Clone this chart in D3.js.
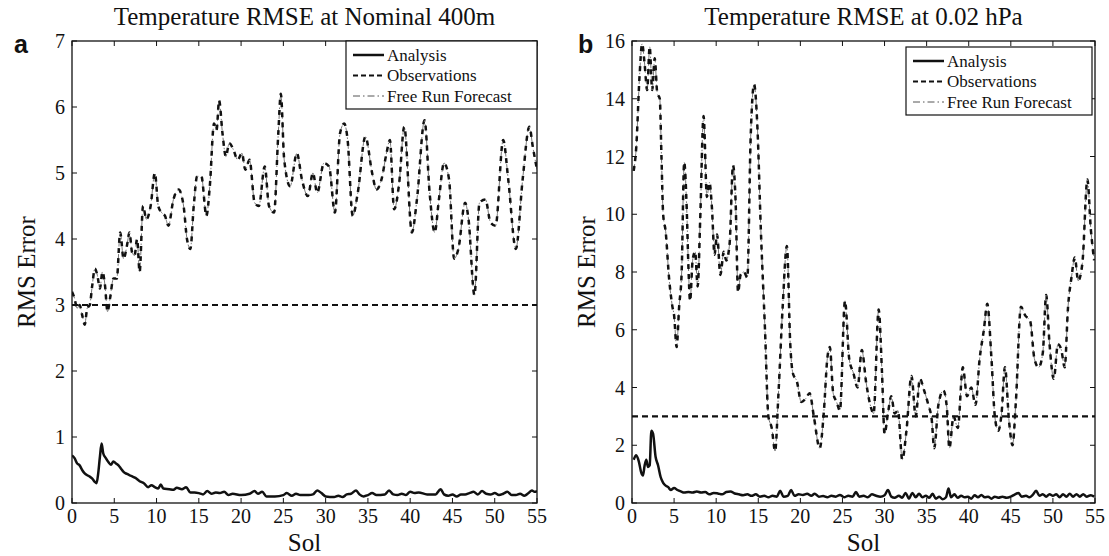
<!DOCTYPE html>
<html>
<head>
<meta charset="utf-8">
<script src="https://cdn.jsdelivr.net/npm/d3@7"></script>
<style>
  body { margin: 0; background: #fff; }
  svg { display: block; }
  text { font-family: "Liberation Serif", "Times New Roman", serif; fill: #111; }
</style>
</head>
<body>
<svg id="chart" width="1109" height="556"></svg>
<script>
// ---- data ----
const solTicks = [0, 5, 10, 15, 20, 25, 30, 35, 40, 45, 50, 55];
const leftYTicks = [0, 1, 2, 3, 4, 5, 6, 7];
const rightYTicks = [0, 2, 4, 6, 8, 10, 12, 14, 16];
const legendLabels = ["Analysis", "Observations", "Free Run Forecast"];
const obsError = 3;

// panel a: nominal 400m  [sol, rmse]
const leftAnalysis = [[0,0.72],[0.3,0.68],[0.6,0.6],[0.9,0.57],[1.2,0.5],[1.5,0.45],[1.8,0.42],[2.1,0.4],[2.4,0.37],[2.7,0.32],[2.9,0.3],[3.1,0.45],[3.3,0.7],[3.5,0.9],[3.7,0.75],[4.0,0.68],[4.3,0.62],[4.6,0.58],[4.9,0.63],[5.2,0.6],[5.5,0.57],[5.8,0.52],[6.1,0.47],[6.5,0.44],[7.0,0.41],[7.5,0.38],[8.0,0.33],[8.5,0.3],[9.0,0.24],[9.4,0.27],[9.8,0.24],[10.2,0.22],[10.5,0.28],[10.8,0.22],[11.5,0.21],[12.0,0.2],[12.4,0.23],[13.0,0.21],[13.5,0.24],[14.0,0.16],[14.5,0.16],[15.0,0.15],[15.5,0.13],[16.0,0.18],[16.5,0.14],[17.0,0.16],[17.5,0.15],[18.0,0.17],[18.5,0.12],[19.0,0.14],[20.0,0.12],[21.0,0.14],[21.6,0.18],[22.0,0.14],[22.5,0.17],[23.0,0.1],[24.0,0.1],[25.0,0.12],[25.4,0.15],[26.0,0.11],[26.5,0.14],[27.0,0.12],[28.0,0.12],[28.5,0.13],[29.0,0.19],[29.5,0.15],[30.0,0.1],[31.0,0.09],[31.5,0.11],[32.0,0.09],[32.5,0.13],[33.0,0.14],[33.6,0.19],[34.0,0.13],[34.5,0.1],[35.0,0.12],[35.5,0.15],[36.0,0.12],[37.0,0.13],[37.5,0.19],[38.0,0.13],[38.5,0.12],[39.0,0.14],[39.5,0.12],[40.0,0.17],[40.5,0.15],[41.0,0.16],[42.0,0.13],[43.0,0.13],[43.6,0.21],[44.0,0.13],[44.5,0.11],[45.0,0.13],[45.5,0.1],[46.0,0.13],[46.5,0.13],[47.0,0.15],[47.5,0.17],[48.0,0.13],[48.5,0.18],[49.0,0.14],[49.5,0.13],[50.0,0.15],[50.5,0.12],[51.0,0.14],[51.5,0.17],[52.0,0.12],[52.5,0.12],[53.0,0.14],[53.5,0.11],[54.0,0.15],[54.4,0.19],[54.7,0.17],[55.0,0.18]];
const leftForecast = [[0,3.2],[0.3,3.1],[0.6,2.95],[0.9,3.0],[1.2,2.85],[1.5,2.7],[1.8,2.95],[2.1,3.0],[2.4,3.3],[2.7,3.55],[3.0,3.45],[3.3,3.25],[3.6,3.5],[3.9,3.3],[4.2,2.9],[4.5,3.1],[4.9,3.4],[5.3,3.4],[5.7,4.1],[6.1,3.7],[6.5,3.9],[6.8,4.1],[7.1,3.8],[7.4,3.75],[7.7,4.0],[8.0,3.5],[8.4,4.5],[8.8,4.3],[9.3,4.5],[9.8,5.0],[10.2,4.5],[10.6,4.4],[11.0,4.35],[11.4,4.2],[12.0,4.6],[12.6,4.75],[13.2,4.5],[13.6,4.0],[14.0,3.85],[14.4,4.5],[14.8,4.95],[15.3,4.95],[15.9,4.35],[16.3,4.8],[16.8,5.75],[17.1,5.65],[17.4,6.1],[17.8,5.6],[18.2,5.25],[18.6,5.45],[19.1,5.35],[19.6,5.2],[20.1,5.3],[20.5,5.05],[21.0,5.2],[21.6,4.55],[22.1,4.5],[22.8,5.1],[23.3,4.5],[23.9,4.4],[24.4,5.6],[24.7,6.2],[25.1,5.2],[25.8,4.8],[26.6,5.3],[27.2,4.9],[27.9,4.65],[28.5,5.0],[29.0,4.7],[29.8,5.15],[30.4,5.1],[31.1,4.4],[31.7,5.6],[32.2,5.75],[32.6,5.5],[33.2,4.35],[33.8,4.7],[34.7,5.55],[35.5,5.0],[36.0,4.75],[36.6,4.9],[37.2,5.3],[37.6,5.5],[38.1,4.45],[38.7,4.85],[39.3,5.7],[40.2,4.1],[40.8,4.6],[41.7,5.8],[42.3,4.7],[42.9,4.1],[43.4,4.6],[44.0,5.15],[44.6,4.9],[45.2,3.7],[45.7,3.85],[46.5,4.55],[46.9,4.3],[47.6,3.15],[48.2,4.55],[48.9,4.6],[49.5,4.25],[50.1,4.2],[51.0,5.5],[51.6,4.9],[52.5,3.85],[53.3,4.9],[54.1,5.7],[54.5,5.4],[55.0,5.05]];

// panel b: 0.02 hPa
const rightAnalysis = [[0.2,1.5],[0.5,1.65],[0.8,1.45],[1.1,1.05],[1.3,0.95],[1.5,1.3],[1.7,1.5],[1.9,1.25],[2.1,1.3],[2.3,2.5],[2.5,2.4],[2.8,1.6],[3.1,1.3],[3.4,0.9],[3.7,0.7],[4.0,0.6],[4.3,0.55],[4.6,0.45],[5.0,0.52],[5.4,0.45],[5.8,0.4],[6.2,0.36],[6.7,0.38],[7.2,0.36],[7.7,0.4],[8.2,0.36],[8.7,0.38],[9.2,0.3],[9.7,0.35],[10.2,0.33],[10.7,0.3],[11.2,0.38],[11.7,0.4],[12.2,0.33],[12.7,0.3],[13.2,0.27],[13.7,0.3],[14.2,0.25],[14.7,0.3],[15.2,0.22],[15.7,0.25],[16.2,0.2],[16.7,0.25],[17.2,0.22],[17.6,0.42],[18.0,0.22],[18.5,0.25],[18.9,0.45],[19.3,0.25],[19.8,0.3],[20.3,0.28],[20.8,0.32],[21.3,0.25],[21.7,0.32],[22.2,0.22],[22.7,0.24],[23.2,0.2],[23.7,0.25],[24.2,0.22],[24.7,0.28],[25.2,0.2],[25.7,0.25],[26.2,0.22],[26.6,0.38],[27.0,0.22],[27.5,0.25],[28.0,0.2],[28.5,0.3],[29.0,0.25],[29.5,0.22],[30.0,0.27],[30.4,0.45],[30.8,0.22],[31.2,0.18],[31.7,0.25],[32.1,0.18],[32.5,0.35],[32.9,0.15],[33.3,0.35],[33.7,0.2],[34.1,0.32],[34.5,0.2],[34.9,0.25],[35.3,0.18],[35.7,0.32],[36.1,0.15],[36.5,0.22],[36.9,0.13],[37.3,0.2],[37.6,0.5],[37.9,0.2],[38.3,0.3],[38.7,0.18],[39.1,0.25],[39.5,0.2],[39.9,0.22],[40.3,0.15],[40.7,0.27],[41.1,0.2],[41.5,0.28],[41.9,0.2],[42.3,0.22],[42.7,0.15],[43.1,0.22],[43.5,0.18],[44.0,0.22],[44.5,0.18],[45.0,0.22],[45.5,0.3],[45.9,0.35],[46.3,0.22],[46.8,0.25],[47.2,0.2],[47.6,0.28],[48.0,0.42],[48.4,0.25],[48.8,0.3],[49.2,0.22],[49.6,0.3],[50.0,0.25],[50.4,0.3],[50.8,0.2],[51.2,0.3],[51.6,0.22],[52.0,0.32],[52.4,0.22],[52.8,0.3],[53.2,0.22],[53.6,0.3],[54.0,0.22],[54.5,0.27],[54.9,0.22]];
const rightForecast = [[0.2,11.5],[0.5,12.3],[0.9,14.8],[1.2,15.9],[1.5,15.2],[1.8,14.3],[2.1,15.8],[2.4,14.3],[2.7,15.4],[3.0,14.2],[3.3,14.0],[3.5,12.0],[3.7,10.0],[4.0,9.4],[4.4,7.8],[4.8,6.8],[5.0,6.5],[5.3,5.4],[5.6,6.8],[5.9,8.0],[6.2,11.8],[6.5,10.2],[6.7,8.2],[6.9,7.0],[7.2,8.4],[7.5,8.7],[7.8,7.5],[8.1,9.8],[8.5,13.4],[8.9,10.6],[9.2,11.1],[9.5,10.2],[9.8,8.6],[10.1,9.3],[10.5,7.9],[10.9,8.7],[11.2,8.4],[11.6,9.0],[12.0,11.7],[12.3,10.5],[12.6,7.3],[12.9,7.9],[13.3,8.0],[13.7,7.8],[14.1,12.7],[14.5,14.5],[14.9,13.0],[15.3,9.5],[15.8,6.0],[16.2,3.0],[16.6,2.6],[17.0,1.8],[17.4,3.8],[17.9,6.8],[18.4,8.9],[18.8,5.5],[19.1,4.5],[19.6,4.2],[20.1,3.5],[20.6,3.6],[21.1,3.8],[21.6,3.0],[22.3,1.9],[22.8,3.2],[23.2,5.0],[23.5,5.4],[23.9,3.8],[24.3,3.5],[24.7,3.2],[25.3,7.0],[25.8,5.0],[26.3,4.5],[26.8,4.0],[27.3,5.3],[27.8,4.2],[28.3,3.4],[28.7,3.1],[29.3,6.7],[29.7,4.5],[30.0,2.4],[30.4,3.1],[30.8,3.7],[31.2,3.1],[31.6,3.2],[32.1,1.5],[32.6,2.5],[33.2,4.4],[33.7,3.0],[34.2,4.3],[34.7,3.9],[35.2,3.4],[35.6,2.9],[35.9,1.9],[36.4,3.4],[37.0,3.9],[37.4,3.3],[37.7,1.9],[38.2,3.0],[38.7,2.6],[39.3,4.7],[39.8,3.7],[40.3,4.0],[40.8,3.4],[41.3,5.0],[41.8,6.0],[42.2,6.9],[42.7,5.0],[43.1,3.0],[43.5,2.5],[43.9,3.1],[44.3,4.7],[44.8,2.8],[45.2,2.0],[45.6,3.5],[46.2,6.8],[46.7,6.5],[47.3,6.3],[47.8,5.0],[48.3,4.7],[48.8,5.2],[49.2,7.2],[49.6,5.5],[50.1,4.3],[50.6,5.5],[51.0,5.3],[51.4,4.7],[51.8,6.8],[52.2,7.8],[52.6,8.5],[53.0,7.7],[53.5,8.3],[54.1,11.2],[54.5,9.5],[54.9,8.4]];

const svg = d3.select("#chart");
const SERIF = "'Liberation Serif', 'Times New Roman', serif";

function drawPanel(opt) {
  const x = d3.scaleLinear().domain([0, 55]).range([opt.left, opt.right]);
  const y = d3.scaleLinear().domain([0, opt.ymax]).range([opt.bottom, opt.top]);
  const g = svg.append("g").style("font-family", SERIF);
  const tick = 5;

  // plotted lines, clipped to the box
  const clipId = "clip-" + opt.tag;
  svg.append("clipPath").attr("id", clipId).append("rect")
    .attr("x", opt.left).attr("y", opt.top)
    .attr("width", opt.right - opt.left).attr("height", opt.bottom - opt.top);
  const plot = g.append("g").attr("clip-path", `url(#${clipId})`);
  const line = d3.line().x(d => x(d[0])).y(d => y(d[1])).curve(d3.curveMonotoneX);

  // free run forecast: thin dash-dot under thick dashes
  plot.append("path").attr("d", line(opt.forecast))
    .attr("fill", "none").attr("stroke", "#777").attr("stroke-width", 1)
    .attr("stroke-dasharray", "7,3,1.5,3");
  plot.append("path").attr("d", line(opt.forecast))
    .attr("fill", "none").attr("stroke", "#111").attr("stroke-width", 2.5)
    .attr("stroke-dasharray", "5,5");
  // observation error
  plot.append("path").attr("d", line([[0, obsError], [55, obsError]]))
    .attr("fill", "none").attr("stroke", "#111").attr("stroke-width", 2.2)
    .attr("stroke-dasharray", "6,4");
  // analysis
  plot.append("path").attr("d", line(opt.analysis))
    .attr("fill", "none").attr("stroke", "#111").attr("stroke-width", 2.5)
    .attr("stroke-linejoin", "round");

  // inside ticks on all four sides
  solTicks.forEach(t => {
    g.append("line").attr("x1", x(t)).attr("x2", x(t)).attr("y1", opt.bottom).attr("y2", opt.bottom - tick).attr("stroke", "#111");
    g.append("line").attr("x1", x(t)).attr("x2", x(t)).attr("y1", opt.top).attr("y2", opt.top + tick).attr("stroke", "#111");
    g.append("text").attr("x", x(t)).attr("y", opt.bottom + 20).attr("text-anchor", "middle")
      .attr("font-size", 20).text(t);
  });
  opt.yTicks.forEach(t => {
    g.append("line").attr("x1", opt.left).attr("x2", opt.left + tick).attr("y1", y(t)).attr("y2", y(t)).attr("stroke", "#111");
    g.append("line").attr("x1", opt.right).attr("x2", opt.right - tick).attr("y1", y(t)).attr("y2", y(t)).attr("stroke", "#111");
    g.append("text").attr("x", opt.left - 7).attr("y", y(t)).attr("dy", "0.35em").attr("text-anchor", "end")
      .attr("font-size", 20).text(t);
  });

  g.append("rect").attr("x", opt.left).attr("y", opt.top)
    .attr("width", opt.right - opt.left).attr("height", opt.bottom - opt.top)
    .attr("fill", "none").attr("stroke", "#111").attr("stroke-width", 1.3);

  // titles and labels
  g.append("text").attr("x", (opt.left + opt.right) / 2).attr("y", 25).attr("text-anchor", "middle")
    .attr("font-size", 25).text(opt.title);
  g.append("text").attr("x", (opt.left + opt.right) / 2).attr("y", 551).attr("text-anchor", "middle")
    .attr("font-size", 25).text("Sol");
  g.append("text").attr("transform", `translate(${opt.left - 37},${(opt.top + opt.bottom) / 2}) rotate(-90)`)
    .attr("text-anchor", "middle").attr("font-size", 25).text("RMS Error");
  g.append("text").attr("x", opt.letterX).attr("y", opt.top + 12)
    .style("font-family", "'Liberation Sans', Arial, sans-serif").attr("font-weight", "bold")
    .attr("font-size", 25).text(opt.tag);

  // legend
  const lg = g.append("g").attr("transform", `translate(${opt.legX},${opt.legY})`);
  lg.append("rect").attr("width", opt.legW).attr("height", 68)
    .attr("fill", "#fff").attr("stroke", "#111").attr("stroke-width", 1.2);
  const styles = [
    { dash: null, w: 2.5, c: "#111" },
    { dash: "5,3", w: 2.2, c: "#111" },
    { dash: "7,3,1.5,3", w: 1, c: "#555" }
  ];
  legendLabels.forEach((lab, i) => {
    const ly = 14 + i * 20.5;
    lg.append("line").attr("x1", 7).attr("x2", 38).attr("y1", ly).attr("y2", ly)
      .attr("stroke", styles[i].c).attr("stroke-width", styles[i].w)
      .attr("stroke-dasharray", styles[i].dash);
    lg.append("text").attr("x", 41).attr("y", ly).attr("dy", "0.35em")
      .attr("font-size", 17).text(lab);
  });
}

drawPanel({
  tag: "a", title: "Temperature RMSE at Nominal 400m",
  left: 72, right: 537, top: 41, bottom: 503, ymax: 7, yTicks: leftYTicks,
  analysis: leftAnalysis, forecast: leftForecast,
  letterX: 14, legX: 346, legY: 41, legW: 191
});
drawPanel({
  tag: "b", title: "Temperature RMSE at 0.02 hPa",
  left: 632, right: 1095, top: 41, bottom: 503, ymax: 16, yTicks: rightYTicks,
  analysis: rightAnalysis, forecast: rightForecast,
  letterX: 578, legX: 906, legY: 47, legW: 186
});
</script>
</body>
</html>
